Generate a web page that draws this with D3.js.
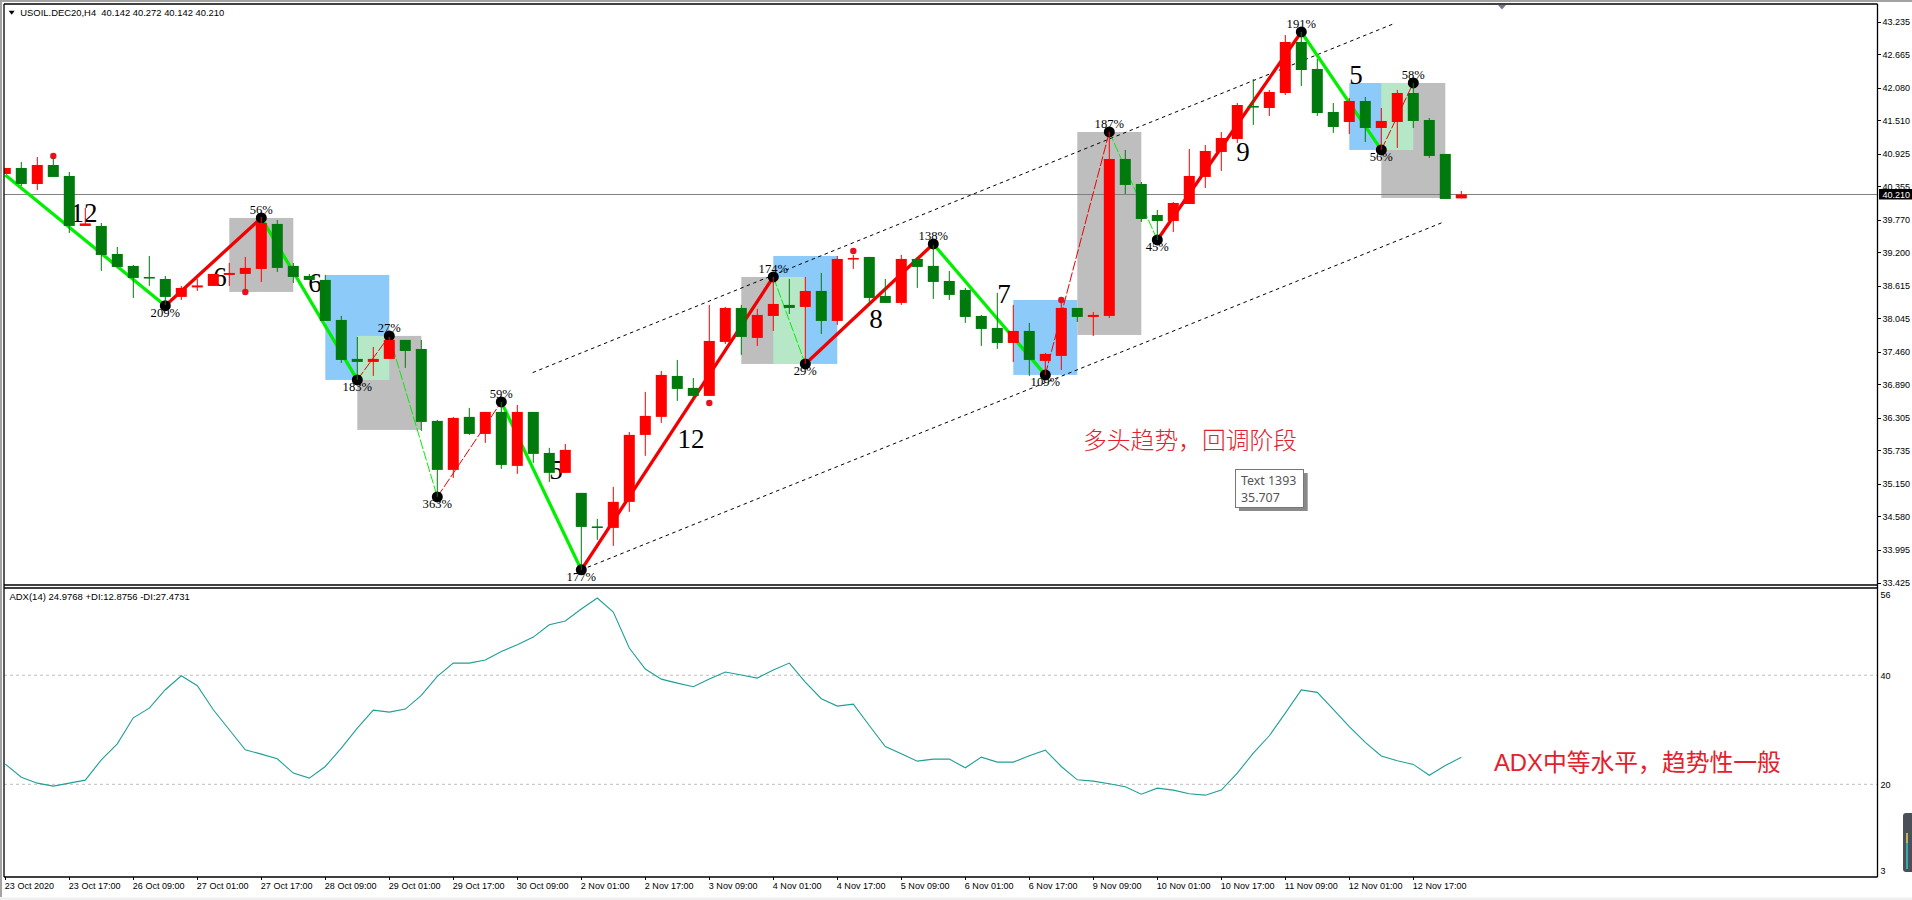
<!DOCTYPE html>
<html>
<head>
<meta charset="utf-8">
<script src="https://cdnjs.cloudflare.com/ajax/libs/d3/7.8.5/d3.min.js"></script>
<style>
  html, body { margin: 0; padding: 0; background: #fff; overflow: hidden; }
  svg { display: block; }
  text { font-family: "Liberation Sans", sans-serif; }
  .axis path { display: none; }
  .axis line { stroke: #000; shape-rendering: crispEdges; }
  .axis text { font-size: 9.6px; fill: #000; }
</style>
</head>
<body>
<svg id="chart" width="1912" height="900"></svg>
<script>
// candles, USOIL.DEC20 H4
const opens = [40.569,40.674,40.394,40.726,40.534,39.660,39.660,39.170,38.961,38.768,38.733,38.419,38.585,38.611,38.803,38.821,38.908,39.695,38.961,38.786,
  38.716,38.016,37.335,37.282,37.335,37.667,37.509,36.251,35.394,36.321,36.023,36.408,35.464,36.408,35.691,35.342,34.992,34.406,34.380,34.835,
  36.006,36.321,37.037,36.828,36.688,37.632,38.226,37.702,38.086,38.279,38.244,38.523,37.999,39.083,39.118,38.436,38.314,39.083,38.961,38.698,
  38.541,38.086,37.877,37.614,37.824,37.300,37.387,38.226,38.069,38.086,40.831,40.394,39.852,39.747,40.044,40.517,40.954,41.181,41.758,41.723,
  41.985,42.877,42.405,41.653,41.478,41.845,41.373,41.478,41.985,41.513,40.919,40.142];
const highs = [40.674,40.779,40.866,40.849,40.604,39.975,39.712,39.293,38.978,39.135,38.786,38.611,38.733,38.821,39.013,39.118,39.817,39.765,39.013,38.821,
  38.803,38.086,37.719,37.544,37.719,37.667,37.667,36.268,36.321,36.478,36.408,36.583,36.530,36.408,35.779,35.849,34.992,34.537,35.097,36.058,
  36.758,37.125,37.317,37.002,38.279,38.244,38.279,38.209,38.768,38.733,38.768,38.838,39.135,39.153,39.118,38.733,39.153,39.118,39.328,38.873,
  38.576,38.104,38.489,38.279,37.964,37.440,38.314,38.226,38.156,41.303,40.989,40.429,39.940,40.079,41.006,41.076,41.303,41.810,42.230,42.038,
  42.999,43.052,42.580,41.810,41.898,41.915,41.723,42.038,42.160,41.548,40.919,40.272];
const lows = [40.569,40.359,40.289,40.517,39.537,39.660,38.873,38.943,38.401,38.611,38.279,38.366,38.523,38.611,38.611,38.506,38.681,38.856,38.663,38.716,
  37.999,37.265,36.967,37.037,37.335,37.177,36.076,34.922,35.254,36.006,35.866,35.411,35.324,35.516,35.184,35.342,33.646,34.170,34.065,34.660,
  35.639,36.216,36.600,36.618,36.688,37.597,37.405,37.562,37.824,38.121,37.247,37.772,37.929,38.908,38.314,38.314,38.279,38.576,38.384,38.366,
  37.964,37.562,37.509,37.282,37.037,37.055,37.142,37.981,37.737,38.051,40.219,39.730,39.415,39.555,40.044,40.324,40.621,41.111,41.426,41.583,
  41.950,42.107,41.583,41.286,41.268,41.128,40.989,41.024,41.373,40.849,40.132,40.142];
const closes = [40.674,40.394,40.726,40.517,39.660,39.704,39.153,38.943,38.751,38.751,38.419,38.576,38.620,38.821,38.838,38.926,39.712,38.926,38.768,38.716,
  37.999,37.317,37.282,37.335,37.667,37.474,36.233,35.394,36.303,36.023,36.408,35.481,36.408,35.674,35.342,35.744,34.397,34.389,34.835,36.006,
  36.338,37.055,36.810,36.688,37.649,38.226,37.719,38.104,38.296,38.226,38.523,37.999,39.083,39.100,38.401,38.314,39.083,38.943,38.681,38.454,
  38.069,37.859,37.614,37.824,37.317,37.422,38.226,38.069,38.104,40.831,40.377,39.782,39.747,40.062,40.534,40.971,41.198,41.775,41.740,42.003,
  42.877,42.387,41.635,41.391,41.845,41.373,41.496,41.985,41.496,40.884,40.132,40.210];

// ADX(14), one value per candle
const adxValues = [23.70,21.31,20.21,19.66,20.21,20.76,24.49,27.43,32.20,33.97,37.34,39.91,38.07,33.67,30.00,26.33,25.53,24.68,22.05,21.13,
  23.27,26.63,30.30,33.61,33.24,33.79,36.30,39.78,42.23,42.23,42.78,44.37,45.59,47.00,49.26,49.94,52.14,54.16,51.59,44.98,
  41.13,39.29,38.56,37.89,39.29,40.58,40.03,39.48,40.95,42.23,38.74,35.69,34.34,34.71,30.79,26.94,25.59,24.25,24.62,24.62,
  23.03,24.98,24.07,24.07,25.23,26.27,23.27,20.82,20.58,20.09,19.54,18.19,19.30,18.93,18.26,18.01,18.93,22.05,25.72,28.90,
  33.05,37.30,36.86,33.72,30.59,27.69,25.20,24.33,23.65,21.65,23.43,24.98];

// axes
const priceTicks = [43.235,42.665,42.080,41.510,40.925,40.355,39.770,39.200,38.615,38.045,37.460,36.890,36.305,35.735,35.150,34.580,33.995,33.425];
const adxTicks = [56,40,20,3];
const adxLevels = [40,20];
const timeTickBars = [0,4,8,12,16,20,24,28,32,36,40,44,48,52,56,60,64,68,72,76,80,84,88];
const timeLabels = ["23 Oct 2020","23 Oct 17:00","26 Oct 09:00","27 Oct 01:00","27 Oct 17:00","28 Oct 09:00","29 Oct 01:00","29 Oct 17:00","30 Oct 09:00",
  "2 Nov 01:00","2 Nov 17:00","3 Nov 09:00","4 Nov 01:00","4 Nov 17:00","5 Nov 09:00","6 Nov 01:00","6 Nov 17:00","9 Nov 09:00","10 Nov 01:00","10 Nov 17:00",
  "11 Nov 09:00","12 Nov 01:00","12 Nov 17:00"];
const lastPrice = 40.210;

// zigzag pivots
const pivotBars = [10,16,22,24,27,31,36,48,50,58,65,69,72,81,86,88];
const pivotPrices = [38.266,39.800,36.967,37.737,34.922,36.583,33.646,38.768,37.247,39.345,37.055,41.303,39.415,43.052,40.989,42.160];
const pivotLabels = ["209%","56%","183%","27%","363%","59%","177%","174%","29%","138%","109%","187%","45%","191%","56%","58%"];
const zigStartBar = 0, zigStartPrice = 40.551;
const zigThick = [1,1,1,0,0,0,1,1,0,1,1,0,0,1,1,0]; // leg drawn bold or thin dashed

// red fractal dots
const dotBars = [3,15,44,53,66];
const dotPrices = [40.884,38.506,36.565,39.223,38.366];

// boxes: bar from, bar to, price top, price bottom, kind
const boxBars = [[14,18],[20,24],[22,26],[22,24],[46,50],[48,52],[48,50],[63,67],[67,71],[84,88],[86,90],[86,88]];
const boxPrices = [[39.800,38.506],[38.803,36.967],[37.737,36.093],[37.737,36.967],[38.768,37.247],[39.135,37.247],[38.768,37.247],
  [38.366,37.055],[41.303,37.754],[42.160,40.989],[42.160,40.149],[42.160,40.989]];
const boxKinds = ["gray","blue","gray","mix","gray","blue","mix","blue","gray","blue","gray","mix"];

// channel
const channelBars = [[32.96,86.73],[36,89.8]];
const channelPrices = [[37.095,43.191],[33.646,39.718]];

// wave counts
const countLabels = ["12","6","6","5","12","8","7","9","5"];
const countBars = [4.92,13.42,19.36,34.42,42.86,54.42,62.42,77.36,84.42];
const countPrices = [39.887,38.768,38.663,35.394,35.936,38.034,38.471,40.954,42.300];

const svg = d3.select("#chart");
const boxColor = { gray: "#bebebe", blue: "#8ccafa", mix: "#b6e8c8" };

const plotLeft = 4, plotRight = 1877.5, mainTop = 4, mainBottom = 585, subTop = 588, subBottom = 877;

const x = d3.scaleLinear().domain([0, 91]).range([5.3, 1461.3]);
const y = d3.scaleLinear().domain([33.425, 43.235]).range([582.5, 21.5]);
const yAdx = d3.scaleLinear().domain([3, 56]).range([877, 588]);

// terminal font is narrower than Liberation, squeeze the labels a bit
function narrow(sel) {
  sel.each(function () {
    const w = this.getComputedTextLength();
    d3.select(this).attr("textLength", w * 0.94).attr("lengthAdjust", "spacingAndGlyphs");
  });
}

// window furniture
svg.append("rect").attr("x", 0).attr("y", 0).attr("width", 1912).attr("height", 2).attr("fill", "#a3a3a3");
svg.append("rect").attr("x", 0).attr("y", 0).attr("width", 2).attr("height", 897).attr("fill", "#a3a3a3");
svg.append("rect").attr("x", 0).attr("y", 897.5).attr("width", 1912).attr("height", 3).attr("fill", "#efefef");

const defs = svg.append("defs");
defs.append("clipPath").attr("id", "mainClip").append("rect")
  .attr("x", plotLeft).attr("y", mainTop).attr("width", plotRight - plotLeft).attr("height", mainBottom - mainTop);
defs.append("clipPath").attr("id", "subClip").append("rect")
  .attr("x", plotLeft).attr("y", subTop).attr("width", plotRight - plotLeft).attr("height", subBottom - subTop);

const main = svg.append("g").attr("clip-path", "url(#mainClip)");

// boxes
boxBars.forEach((b, i) => {
  main.append("rect")
    .attr("x", x(b[0])).attr("width", x(b[1]) - x(b[0]))
    .attr("y", y(boxPrices[i][0])).attr("height", y(boxPrices[i][1]) - y(boxPrices[i][0]))
    .attr("fill", boxColor[boxKinds[i]]);
});

// last price line
main.append("line").attr("x1", plotLeft).attr("x2", plotRight).attr("y1", y(lastPrice)).attr("y2", y(lastPrice))
  .attr("stroke", "#808080").attr("stroke-width", 1);

// channel lines
channelBars.forEach((b, i) => {
  main.append("line")
    .attr("x1", x(b[0])).attr("x2", x(b[1]))
    .attr("y1", y(channelPrices[i][0])).attr("y2", y(channelPrices[i][1]))
    .attr("stroke", "#000").attr("stroke-width", 1).attr("stroke-dasharray", "3.5,3.5");
});

// zigzag
const legBars = [zigStartBar].concat(pivotBars);
const legPrices = [zigStartPrice].concat(pivotPrices);
zigThick.forEach((thick, i) => {
  const up = legPrices[i + 1] > legPrices[i];
  main.append("line")
    .attr("x1", x(legBars[i])).attr("x2", x(legBars[i + 1]))
    .attr("y1", y(legPrices[i])).attr("y2", y(legPrices[i + 1]))
    .attr("stroke", up ? "#f00000" : "#00f000")
    .attr("stroke-width", thick ? 3.3 : 1)
    .attr("stroke-dasharray", thick ? null : "10,2");
});

// wave count numbers
countLabels.forEach((t, i) => {
  main.append("text").attr("x", x(countBars[i])).attr("y", y(countPrices[i]))
    .attr("text-anchor", "middle").attr("dominant-baseline", "central")
    .style("font-family", "'Liberation Serif', serif").style("font-size", "27px").attr("fill", "#000")
    .text(t);
});

// pivot percents and circles
pivotLabels.forEach((t, i) => {
  const isTop = i === 0 ? false : pivotPrices[i] > legPrices[i];
  main.append("text").attr("x", x(pivotBars[i])).attr("y", y(pivotPrices[i]) + (isTop ? -7.5 : 7.5))
    .attr("text-anchor", "middle").attr("dominant-baseline", "central")
    .style("font-family", "'Liberation Serif', serif").style("font-size", "12.6px").attr("fill", "#000")
    .text(t);
});
main.selectAll("circle.pivot").data(pivotBars).enter().append("circle").attr("class", "pivot")
  .attr("cx", d => x(d)).attr("cy", (d, i) => y(pivotPrices[i])).attr("r", 5.5).attr("fill", "#000");

// red dots
main.selectAll("circle.dot").data(dotBars).enter().append("circle").attr("class", "dot")
  .attr("cx", d => x(d)).attr("cy", (d, i) => y(dotPrices[i])).attr("r", 3.2).attr("fill", "#e8101c");

// candles on top
opens.forEach((o, i) => {
  const c = closes[i];
  const color = c >= o ? "#ff0000" : "#007a0c";
  const top = y(Math.max(o, c)), bot = y(Math.min(o, c));
  main.append("line").attr("x1", x(i)).attr("x2", x(i)).attr("y1", y(highs[i])).attr("y2", y(lows[i]))
    .attr("stroke", color).attr("stroke-width", 1);
  main.append("rect").attr("x", x(i) - 5.5).attr("width", 11)
    .attr("y", top).attr("height", Math.max(bot - top, 1.6)).attr("fill", color);
});

// ADX panel
svg.append("g").attr("clip-path", "url(#subClip)").selectAll("line").data(adxLevels).enter().append("line")
  .attr("x1", plotLeft).attr("x2", plotRight).attr("y1", d => yAdx(d)).attr("y2", d => yAdx(d))
  .attr("stroke", "#bdbdbd").attr("stroke-width", 1).attr("stroke-dasharray", "3,3");

const adxLine = d3.line().x((d, i) => x(i)).y(d => yAdx(d));
svg.append("path").attr("clip-path", "url(#subClip)").attr("d", adxLine(adxValues))
  .attr("fill", "none").attr("stroke", "#1f9f98").attr("stroke-width", 1.1);

// frames
[[plotLeft, mainTop, plotRight, mainTop], [plotLeft, mainBottom, plotRight, mainBottom],
 [plotLeft, subTop, plotRight, subTop], [plotLeft, subBottom, plotRight, subBottom],
 [plotLeft, mainTop, plotLeft, subBottom], [plotRight, mainTop, plotRight, subBottom]].forEach(p => {
  svg.append("line").attr("x1", p[0]).attr("y1", p[1]).attr("x2", p[2]).attr("y2", p[3])
    .attr("stroke", "#000").attr("stroke-width", 1.3);
});

// price axis
const priceAxis = svg.append("g").attr("class", "axis").attr("transform", `translate(${plotRight},0)`)
  .call(d3.axisRight(y).tickValues(priceTicks).tickFormat(d3.format(".3f")).tickSize(3).tickPadding(2));
narrow(priceAxis.selectAll("text"));

// last price tag
svg.append("rect").attr("x", 1879).attr("y", y(lastPrice) - 5.5).attr("width", 33).attr("height", 10.5).attr("fill", "#000");
svg.append("text").attr("x", 1882.5).attr("y", y(lastPrice)).attr("dominant-baseline", "central")
  .style("font-size", "9.6px").attr("fill", "#fff").text(lastPrice.toFixed(3)).call(narrow);

// ADX axis, the two end labels sit inside the panel
const adxAxis = svg.append("g").attr("class", "axis").attr("transform", `translate(${plotRight},0)`)
  .call(d3.axisRight(yAdx).tickValues(adxTicks).tickSize(0).tickPadding(3));
adxAxis.selectAll("text").attr("dy", d => d === 56 ? "1em" : d === 3 ? "-0.4em" : "0.32em");
narrow(adxAxis.selectAll("text"));

// time axis
const timeLabelByBar = d3.scaleOrdinal().domain(timeTickBars).range(timeLabels);
const timeAxis = svg.append("g").attr("class", "axis").attr("transform", `translate(0,${subBottom})`)
  .call(d3.axisBottom(x).tickValues(timeTickBars).tickFormat(d => timeLabelByBar(d)).tickSize(3).tickPadding(2));
timeAxis.selectAll("text").attr("text-anchor", "start").attr("dx", "-0.1em");
narrow(timeAxis.selectAll("text"));

// header texts
svg.append("path").attr("d", "M8.7,10.7 L14.7,10.7 L11.7,14.7 Z").attr("fill", "#000");
svg.append("text").attr("x", 20.3).attr("y", 12.7).attr("dominant-baseline", "central")
  .style("font-size", "9.6px").style("white-space", "pre").attr("fill", "#000")
  .text("USOIL.DEC20,H4  40.142 40.272 40.142 40.210").attr("textLength", 204).attr("lengthAdjust", "spacingAndGlyphs");
svg.append("text").attr("x", 9.4).attr("y", 596.7).attr("dominant-baseline", "central")
  .style("font-size", "9.6px").attr("fill", "#000")
  .text("ADX(14) 24.9768 +DI:12.8756 -DI:27.4731").attr("textLength", 180.5).attr("lengthAdjust", "spacingAndGlyphs");

// scroll marker at the top
svg.append("path").attr("d", "M1498,5 L1506,5 L1502,9.5 Z").attr("fill", "#6e7a8c");

// notes
svg.append("text").attr("x", 1083).attr("y", 438).attr("dominant-baseline", "central")
  .style("font-family", "'Noto Sans CJK SC', sans-serif").style("font-size", "23.8px").style("font-weight", "300").attr("fill", "#e4202c")
  .text("多头趋势\uFF0C回调阶段");
svg.append("text").attr("x", 1494).attr("y", 762).attr("dominant-baseline", "central")
  .style("font-family", "'Liberation Sans', 'Noto Sans CJK SC', sans-serif").style("font-size", "23.8px").attr("fill", "#e4202c")
  .text("ADX中等水平\uFF0C趋势性一般");

// tooltip box
svg.append("rect").attr("x", 1239).attr("y", 473).attr("width", 68.7).attr("height", 38).attr("fill", "#8a8a8a");
svg.append("rect").attr("x", 1235.5).attr("y", 469.5).attr("width", 68).attr("height", 38).attr("fill", "#fff").attr("stroke", "#777");
svg.append("text").attr("x", 1241).attr("y", 480).attr("dominant-baseline", "central")
  .style("font-family", "'Noto Sans', sans-serif").style("font-size", "12.4px").attr("fill", "#555").text("Text 1393");
svg.append("text").attr("x", 1241).attr("y", 497).attr("dominant-baseline", "central")
  .style("font-family", "'Noto Sans', sans-serif").style("font-size", "12.4px").attr("fill", "#555").text("35.707");

// small meter widget, bottom right
svg.append("rect").attr("x", 1903).attr("y", 813).attr("width", 12).attr("height", 59).attr("rx", 3).attr("fill", "#4b5058");
svg.append("rect").attr("x", 1906).attr("y", 833).attr("width", 2).attr("height", 10).attr("fill", "#b8b860");
svg.append("rect").attr("x", 1906).attr("y", 843).attr("width", 2).attr("height", 26).attr("fill", "#35a8b0");
</script>
</body>
</html>
